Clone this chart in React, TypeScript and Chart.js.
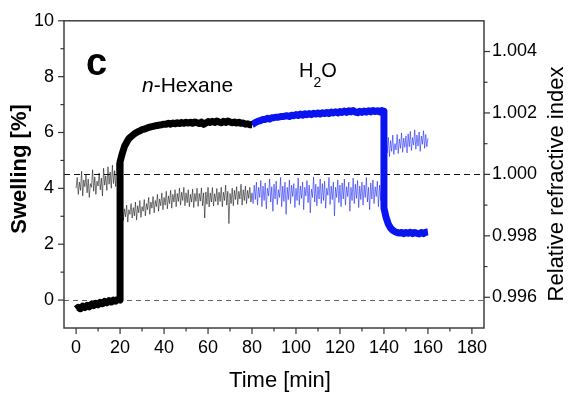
import React, { useEffect, useRef } from "react";
import { Chart, registerables } from "chart.js";
Chart.register(...registerables);

// ---- Data ----
const xTicks = [0, 20, 40, 60, 80, 100, 120, 140, 160, 180];
const xMinor = [10, 30, 50, 70, 90, 110, 130, 150, 170];
const yTicks = [0, 2, 4, 6, 8, 10];
const yMinor = [1, 3, 5, 7, 9];
const y2Ticks = [0.996, 0.998, 1.0, 1.002, 1.004];
const y2Minor = [0.997, 0.999, 1.001, 1.003];

// Swelling [%], n-hexane phase (black)
const swellTimeHexane = [
  0, 1, 2, 3, 4, 5, 6, 7, 8, 9, 10, 11, 12, 13, 14, 15, 16, 17, 18, 19, 20, 20,
  21, 22, 23, 24, 25, 26, 27, 28, 29, 30, 31, 32, 33, 34, 35, 36, 37, 38, 39, 40,
  41, 42, 43, 44, 45, 46, 47, 48, 49, 50, 51, 52, 53, 54, 55, 56, 57, 58, 59, 60,
  61, 62, 63, 64, 65, 66, 67, 68, 69, 70, 71, 72, 73, 74, 75, 76, 77, 78, 79, 80,
];
const swellHexane = [
  -0.32, -0.26, -0.31, -0.22, -0.27, -0.19, -0.24, -0.15, -0.2, -0.12, -0.17, -0.08, -0.13, -0.05, -0.1, -0.02, -0.07, 0.0, -0.04, 0.03, 0.0, 4.95,
  5.25, 5.5, 5.65, 5.78, 5.85, 5.92, 5.98, 6.02, 6.06, 6.1, 6.12, 6.15, 6.18, 6.2, 6.22, 6.24, 6.25, 6.27, 6.28, 6.3,
  6.3, 6.33, 6.3, 6.34, 6.31, 6.35, 6.32, 6.36, 6.33, 6.37, 6.34, 6.37, 6.33, 6.38, 6.35, 6.32, 6.37, 6.29, 6.34, 6.39,
  6.36, 6.4, 6.36, 6.41, 6.38, 6.35, 6.4, 6.36, 6.41, 6.38, 6.35, 6.38, 6.34, 6.37, 6.33, 6.34, 6.3, 6.31, 6.28, 6.28,
];

// Swelling [%], water phase (blue)
const swellTimeWater = [
  80, 81, 82, 83, 84, 85, 86, 87, 88, 89, 90, 91, 92, 93, 94, 95, 96, 97, 98, 99,
  100, 101, 102, 103, 104, 105, 106, 107, 108, 109, 110, 111, 112, 113, 114, 115, 116, 117, 118, 119,
  120, 121, 122, 123, 124, 125, 126, 127, 128, 129, 130, 131, 132, 133, 134, 135, 136, 137, 138, 139, 140,
  140, 141, 142, 143, 144, 145, 146, 147, 148, 149, 150, 151, 152, 153, 154, 155, 156, 157, 158, 159, 160,
];
const swellWater = [
  6.28, 6.33, 6.38, 6.41, 6.43, 6.47, 6.47, 6.51, 6.48, 6.53, 6.53, 6.55, 6.55, 6.57, 6.57, 6.59, 6.6, 6.57, 6.62, 6.6,
  6.64, 6.61, 6.66, 6.62, 6.67, 6.64, 6.68, 6.64, 6.69, 6.66, 6.7, 6.66, 6.71, 6.68, 6.72, 6.68, 6.73, 6.7, 6.74, 6.7,
  6.75, 6.72, 6.77, 6.72, 6.78, 6.74, 6.79, 6.73, 6.71, 6.76, 6.72, 6.77, 6.73, 6.78, 6.74, 6.79, 6.75, 6.78, 6.74, 6.79, 6.76,
  3.3, 2.95, 2.72, 2.58, 2.5, 2.45, 2.42, 2.4, 2.42, 2.38, 2.42, 2.39, 2.43, 2.38, 2.42, 2.39, 2.37, 2.42, 2.38, 2.43, 2.44,
];

// Relative refractive index, n-hexane phase (thin black)
const riTimeHexane = [
  0, 0.5, 1, 1.5, 2, 2.5, 3, 3.5, 4, 4.5, 5, 5.5, 6, 6.5, 7, 7.5, 8, 8.5, 9, 9.5,
  10, 10.5, 11, 11.5, 12, 12.5, 13, 13.5, 14, 14.5, 15, 15.5, 16, 16.5, 17, 17.5, 18, 18.5, 19, 19.5,
  20, 20.5, 21, 21.5, 22, 22.5, 23, 23.5, 24, 24.5, 25, 25.5, 26, 26.5, 27, 27.5, 28, 28.5, 29, 29.5,
  30, 30.5, 31, 31.5, 32, 32.5, 33, 33.5, 34, 34.5, 35, 35.5, 36, 36.5, 37, 37.5, 38, 38.5, 39, 39.5,
  40, 40.5, 41, 41.5, 42, 42.5, 43, 43.5, 44, 44.5, 45, 45.5, 46, 46.5, 47, 47.5, 48, 48.5, 49, 49.5,
  50, 50.5, 51, 51.5, 52, 52.5, 53, 53.5, 54, 54.5, 55, 55.5, 56, 56.5, 57, 57.5, 58, 58.5, 59, 59.5,
  60, 60.5, 61, 61.5, 62, 62.5, 63, 63.5, 64, 64.5, 65, 65.5, 66, 66.5, 67, 67.5, 68, 68.5, 69, 69.5,
  70, 70.5, 71, 71.5, 72, 72.5, 73, 73.5, 74, 74.5, 75, 75.5, 76, 76.5, 77, 77.5, 78, 78.5, 79, 79.5,
  80,
];
const riHexane = [
  0.99955, 0.9999, 0.99935, 0.99975, 0.99948, 1.0001, 0.9993, 0.99982, 0.9996, 0.99998,
  0.9994, 0.99985, 0.99925, 0.9997, 0.99958, 1.00015, 0.99945, 0.99992, 0.99935, 0.99978,
  0.99962, 1.00005, 0.9995, 0.99988, 0.9993, 1.0002, 0.99965, 0.99995, 0.99948, 1.00025,
  0.99968, 1.00008, 0.99955, 1.0003, 0.9997, 1.00012, 0.9996, 1.00038, 0.99975, 1.0001,
  0.99985,
  0.9987, 0.99895, 0.9985, 0.99888, 0.99862, 0.999, 0.99845, 0.99885, 0.9987, 0.99905,
  0.99858, 0.99892, 0.99865, 0.9991, 0.99852, 0.99898, 0.99875, 0.99915, 0.9986, 0.99895,
  0.9988, 0.99918, 0.99865, 0.99905, 0.99885, 0.99925, 0.9987, 0.9991, 0.9989, 0.99928,
  0.99875, 0.99915, 0.99895, 0.99935, 0.9988, 0.9992, 0.99898, 0.9994, 0.99885, 0.99925,
  0.999, 0.99945, 0.99888, 0.9993, 0.99905, 0.99948, 0.9989, 0.99935, 0.9991, 0.9995,
  0.99895, 0.99938, 0.99912, 0.99955, 0.999, 0.99942, 0.99915, 0.99958, 0.99898, 0.9994,
  0.99908, 0.9995, 0.99895, 0.99935, 0.9991, 0.99952, 0.99892, 0.99938, 0.99912, 0.99955,
  0.99896, 0.99938, 0.99913, 0.99956, 0.99898, 0.9994, 0.99858, 0.99943, 0.99903, 0.99958,
  0.99894, 0.9994, 0.9991, 0.99957, 0.99897, 0.99937, 0.99912, 0.99954, 0.999, 0.99942,
  0.99912, 0.99958, 0.99895, 0.99942, 0.99915, 0.99965, 0.999, 0.99945, 0.9984, 0.99938,
  0.99905, 0.99955, 0.99898, 0.99948, 0.99918, 0.9996, 0.99902, 0.99945, 0.9992, 0.99968,
  0.999, 0.9995, 0.99915, 0.99962, 0.99905, 0.99948, 0.99922, 0.99958, 0.9991, 0.9994,
];

// Relative refractive index, water phase (thin blue)
const riTimeWater = [
  80, 80.5, 81, 81.5, 82, 82.5, 83, 83.5, 84, 84.5, 85, 85.5, 86, 86.5, 87, 87.5, 88, 88.5, 89, 89.5,
  90, 90.5, 91, 91.5, 92, 92.5, 93, 93.5, 94, 94.5, 95, 95.5, 96, 96.5, 97, 97.5, 98, 98.5, 99, 99.5,
  100, 100.5, 101, 101.5, 102, 102.5, 103, 103.5, 104, 104.5, 105, 105.5, 106, 106.5, 107, 107.5, 108, 108.5, 109, 109.5,
  110, 110.5, 111, 111.5, 112, 112.5, 113, 113.5, 114, 114.5, 115, 115.5, 116, 116.5, 117, 117.5, 118, 118.5, 119, 119.5,
  120, 120.5, 121, 121.5, 122, 122.5, 123, 123.5, 124, 124.5, 125, 125.5, 126, 126.5, 127, 127.5, 128, 128.5, 129, 129.5,
  130, 130.5, 131, 131.5, 132, 132.5, 133, 133.5, 134, 134.5, 135, 135.5, 136, 136.5, 137, 137.5, 138, 138.5, 139, 139.5,
  140, 140.5, 141, 141.5, 142, 142.5, 143, 143.5, 144, 144.5, 145, 145.5, 146, 146.5, 147, 147.5, 148, 148.5, 149, 149.5,
  150, 150.5, 151, 151.5, 152, 152.5, 153, 153.5, 154, 154.5, 155, 155.5, 156, 156.5, 157, 157.5, 158, 158.5, 159, 159.5,
  160,
];
const riWater = [
  0.9994, 0.99905, 0.99965, 0.99918, 0.99975, 0.999, 0.99958, 0.99925, 0.9998, 0.99895,
  0.99962, 0.99915, 0.99972, 0.99888, 0.99955, 0.9993, 0.99985, 0.9991, 0.9996, 0.9988,
  0.99968, 0.9992, 0.99978, 0.99902, 0.9995, 0.99925, 0.9999, 0.99895, 0.99962, 0.99912,
  0.99975, 0.9987, 0.99958, 0.99918, 0.99982, 0.99905, 0.99965, 0.99928, 0.9997, 0.99892,
  0.99955, 0.99915, 0.99988, 0.999, 0.99962, 0.99922, 0.99975, 0.99885, 0.99958, 0.9993,
  0.9998, 0.99908, 0.99965, 0.99875, 0.99952, 0.99925, 0.99992, 0.9991, 0.99968, 0.99898,
  0.9996, 0.9992, 0.99985, 0.99905, 0.9997, 0.99915, 0.99978, 0.9989, 0.99955, 0.99932,
  0.9999, 0.99902, 0.99962, 0.99918, 0.99975, 0.99865, 0.99958, 0.99925, 0.99982, 0.99908,
  0.99965, 0.99895, 0.99972, 0.9992, 0.99985, 0.999, 0.9996, 0.99928, 0.99975, 0.9988,
  0.99958, 0.99915, 0.99988, 0.99905, 0.99968, 0.99922, 0.9998, 0.99892, 0.99962, 0.99918,
  0.99975, 0.999, 0.99965, 0.99925, 0.9999, 0.9991, 0.99958, 0.99885, 0.99972, 0.9992,
  0.99982, 0.99905, 0.9996, 0.99928, 0.99978, 0.99895, 0.99965, 0.99915, 0.99985, 0.9993,
  0.9995,
  1.0006, 1.00105, 1.0007, 1.0012, 1.00058, 1.0011, 1.00075, 1.00128, 1.00065, 1.001,
  1.0008, 1.0013, 1.00068, 1.00115, 1.00085, 1.00135, 1.00072, 1.00118, 1.00088, 1.00125,
  1.0007, 1.00132, 1.0009, 1.0014, 1.00078, 1.0012, 1.00095, 1.00145, 1.00082, 1.00128,
  1.00092, 1.00138, 1.00075, 1.00125, 1.00098, 1.00142, 1.00085, 1.0013, 1.0009, 1.00118,
];

const FONT = "'Liberation Sans', Arial, Helvetica, sans-serif";
const BLUE = "#0a14f0";

const decorPlugin = {
  id: "decor",
  beforeDatasetsDraw(chart: any) {
    const { ctx, chartArea: a, scales } = chart;
    ctx.save();
    ctx.lineWidth = 1.2;
    ctx.strokeStyle = "#666";
    ctx.setLineDash([5, 4]);
    const y0 = Math.round(scales.y.getPixelForValue(0)) + 0.5;
    ctx.beginPath();
    ctx.moveTo(a.left, y0);
    ctx.lineTo(a.right, y0);
    ctx.stroke();
    ctx.strokeStyle = "#111";
    ctx.setLineDash([6, 4]);
    const y1 = Math.round(scales.y2.getPixelForValue(1.0)) + 0.5;
    ctx.beginPath();
    ctx.moveTo(a.left, y1);
    ctx.lineTo(a.right, y1);
    ctx.stroke();
    ctx.restore();
  },
  afterDraw(chart: any) {
    const { ctx, chartArea: a, scales } = chart;
    ctx.save();
    ctx.strokeStyle = "#333";
    ctx.lineWidth = 1.4;
    ctx.strokeRect(a.left, a.top, a.right - a.left, a.bottom - a.top);
    ctx.lineWidth = 1.2;
    const tick = (x1: number, y1: number, x2: number, y2: number) => {
      ctx.beginPath();
      ctx.moveTo(x1, y1);
      ctx.lineTo(x2, y2);
      ctx.stroke();
    };
    xTicks.forEach((v) => {
      const x = scales.x.getPixelForValue(v);
      tick(x, a.bottom, x, a.bottom + 6);
    });
    xMinor.forEach((v) => {
      const x = scales.x.getPixelForValue(v);
      tick(x, a.bottom, x, a.bottom + 3.5);
    });
    yTicks.forEach((v) => {
      const y = scales.y.getPixelForValue(v);
      tick(a.left, y, a.left - 6, y);
    });
    yMinor.forEach((v) => {
      const y = scales.y.getPixelForValue(v);
      tick(a.left, y, a.left - 3.5, y);
    });
    y2Ticks.forEach((v) => {
      const y = scales.y2.getPixelForValue(v);
      tick(a.right, y, a.right + 6, y);
    });
    y2Minor.forEach((v) => {
      const y = scales.y2.getPixelForValue(v);
      tick(a.right, y, a.right + 3.5, y);
    });

    ctx.fillStyle = "#000";
    ctx.textAlign = "center";
    ctx.textBaseline = "alphabetic";
    ctx.font = `22px ${FONT}`;
    ctx.fillText("Time [min]", 280, 387);

    ctx.save();
    ctx.translate(20, 169);
    ctx.rotate(-Math.PI / 2);
    ctx.textBaseline = "middle";
    ctx.font = `bold 22px ${FONT}`;
    ctx.fillText("Swelling [%]", 0, 0);
    ctx.restore();

    ctx.save();
    ctx.translate(557, 184);
    ctx.rotate(-Math.PI / 2);
    ctx.textBaseline = "middle";
    ctx.font = `22px ${FONT}`;
    ctx.fillText("Relative refractive index", 0, 0);
    ctx.restore();

    ctx.textAlign = "left";
    ctx.textBaseline = "alphabetic";
    ctx.font = `bold 38px ${FONT}`;
    ctx.fillText("c", 86, 75);

    ctx.font = `italic 21px ${FONT}`;
    ctx.fillText("n", 142, 92);
    const wn = ctx.measureText("n").width;
    ctx.font = `21px ${FONT}`;
    ctx.fillText("-Hexane", 142 + wn, 92);

    ctx.font = `20px ${FONT}`;
    ctx.fillText("H", 299, 77);
    const wh = ctx.measureText("H").width;
    ctx.font = `14px ${FONT}`;
    ctx.fillText("2", 299 + wh, 87);
    const w2 = ctx.measureText("2").width;
    ctx.font = `20px ${FONT}`;
    ctx.fillText("O", 299 + wh + w2, 77);
    ctx.restore();
  },
};

const pts = (xs: number[], ys: number[]) => xs.map((x, i) => ({ x, y: ys[i] }));

export default function App() {
  const ref = useRef<HTMLCanvasElement>(null);
  useEffect(() => {
    if (!ref.current) return;
    const tickFont = { family: FONT, size: 18 };
    const chart = new Chart(ref.current, {
      type: "line",
      data: {
        datasets: [
          {
            data: pts(swellTimeHexane, swellHexane),
            yAxisID: "y",
            borderColor: "#000",
            borderWidth: 7,
            pointRadius: 0,
            tension: 0,
            borderJoinStyle: "round",
          },
          {
            data: pts(swellTimeWater, swellWater),
            yAxisID: "y",
            borderColor: BLUE,
            borderWidth: 7,
            pointRadius: 0,
            tension: 0,
            borderJoinStyle: "round",
          },
          {
            data: pts(riTimeHexane, riHexane),
            yAxisID: "y2",
            borderColor: "rgba(0,0,0,0.75)",
            borderWidth: 0.7,
            pointRadius: 0,
            tension: 0,
          },
          {
            data: pts(riTimeWater, riWater),
            yAxisID: "y2",
            borderColor: "rgba(20,30,240,0.8)",
            borderWidth: 0.7,
            pointRadius: 0,
            tension: 0,
          },
        ],
      } as any,
      options: {
        animation: false,
        responsive: false,
        layout: { padding: { top: 18, left: 0, right: 0, bottom: 0 } },
        plugins: { legend: { display: false }, tooltip: { enabled: false } },
        scales: {
          x: {
            type: "linear",
            min: -5.5,
            max: 185.5,
            afterBuildTicks: (s: any) => {
              s.ticks = xTicks.map((v) => ({ value: v }));
            },
            afterFit: (s: any) => {
              s.height = 65;
            },
            grid: { display: false, drawTicks: false },
            border: { display: false },
            ticks: {
              padding: 9,
              font: tickFont,
              color: "#000",
              maxRotation: 0,
              autoSkip: false,
              callback: (v: any) => String(v),
            },
          },
          y: {
            type: "linear",
            position: "left",
            min: -1,
            max: 10,
            afterBuildTicks: (s: any) => {
              s.ticks = yTicks.map((v) => ({ value: v }));
            },
            afterFit: (s: any) => {
              s.width = 64;
            },
            grid: { display: false, drawTicks: false },
            border: { display: false },
            ticks: {
              padding: 10,
              font: tickFont,
              color: "#000",
              callback: (v: any) => String(v),
            },
          },
          y2: {
            type: "linear",
            position: "right",
            min: 0.995,
            max: 1.005,
            afterBuildTicks: (s: any) => {
              s.ticks = y2Ticks.map((v) => ({ value: v }));
            },
            afterFit: (s: any) => {
              s.width = 84;
            },
            grid: { display: false, drawTicks: false },
            border: { display: false },
            ticks: {
              padding: 8,
              font: tickFont,
              color: "#000",
              callback: (v: any) => Number(v).toFixed(3),
            },
          },
        },
      } as any,
      plugins: [decorPlugin],
    });
    return () => chart.destroy();
  }, []);
  return (
    <div style={{ position: "fixed", left: 0, top: 0, width: 568, height: 393, background: "#fff" }}>
      <canvas ref={ref} width={568} height={393} />
    </div>
  );
}
